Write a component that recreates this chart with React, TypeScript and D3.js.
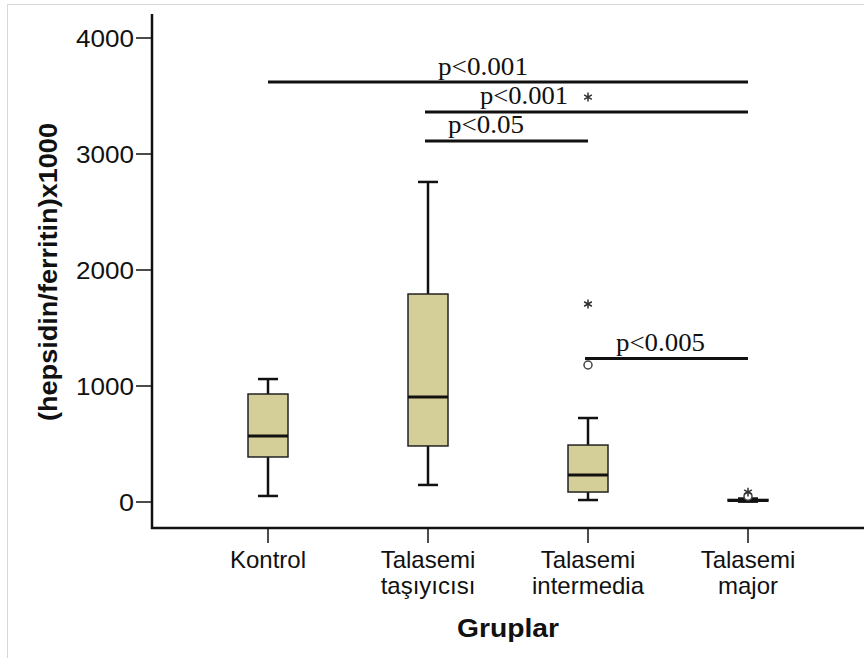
import React from "react";
import * as d3 from "d3";

// groups on the x axis
const groups = ["Kontrol", "Talasemi taşıyıcısı", "Talasemi intermedia", "Talasemi major"];
const groupLines = [["Kontrol"], ["Talasemi", "taşıyıcısı"], ["Talasemi", "intermedia"], ["Talasemi", "major"]];

// box stats: [min whisker, Q1, median, Q3, max whisker]
const boxStats = [
  [52, 388, 569, 931, 1060],
  [147, 483, 905, 1793, 2759],
  [17, 86, 233, 491, 724],
  [3, 8, 14, 22, 30],
];

// outliers: circles (mild) and stars (extreme)
const mildOutliers = [
  { group: 2, value: 1181 },
  { group: 3, value: 50 },
];
const extremeOutliers = [
  { group: 2, value: 1707 },
  { group: 2, value: 3491 },
  { group: 3, value: 85 },
];

const yTicks = [0, 1000, 2000, 3000, 4000];

// significance bars: from group, to group, level in data units, label
const sigBars = [
  { from: 0, to: 3, level: 3620, label: "p<0.001" },
  { from: 1, to: 3, level: 3363, label: "p<0.001" },
  { from: 1, to: 2, level: 3112, label: "p<0.05" },
  { from: 2, to: 3, level: 1237, label: "p<0.005" },
];

const boxFill = "#d4cf98";
const ink = "#111";
const sans = "Arial, 'Liberation Sans', sans-serif";
const serif = "'Times New Roman', 'Liberation Serif', serif";

export default function App() {
  const width = 864;
  const height = 658;
  const axisX = 152;
  const axisY = 528;

  const y = d3.scaleLinear().domain([0, 4000]).range([502, 38]);
  const x = d3.scalePoint<string>().domain(groups).range([268, 748]);
  const boxW = 40;
  const capW = 20;
  const star = d3.symbol().type(d3.symbolAsterisk).size(56)() as string;

  return (
    <svg width={width} height={height} style={{ display: "block", position: "absolute", left: 0, top: 0 }}>
      <rect width={width} height={height} fill="#fff" />
      {/* thin frame */}
      <line x1={7} x2={width} y1={4.5} y2={4.5} stroke="#d8d8d8" />
      <line x1={7.5} x2={7.5} y1={4} y2={height} stroke="#d8d8d8" />

      {/* axes */}
      <line x1={axisX} x2={axisX} y1={14} y2={axisY + 1} stroke={ink} strokeWidth={2.5} />
      <line x1={axisX - 1} x2={width} y1={axisY} y2={axisY} stroke={ink} strokeWidth={2.5} />

      {yTicks.map((t) => (
        <g key={t}>
          <line x1={axisX - 16} x2={axisX} y1={y(t)} y2={y(t)} stroke={ink} strokeWidth={1.5} />
          <text
            x={axisX - 18}
            y={y(t)}
            dy="0.36em"
            textAnchor="end"
            fontFamily={sans}
            fontSize={24}
            fill={ink}
            textLength={t === 0 ? 15 : 58}
            lengthAdjust="spacingAndGlyphs"
          >
            {t}
          </text>
        </g>
      ))}

      {groups.map((g, i) => (
        <g key={g}>
          <line x1={x(g)} x2={x(g)} y1={axisY} y2={axisY + 15} stroke={ink} strokeWidth={1.5} />
          {groupLines[i].map((ln, j) => (
            <text key={j} x={x(g)} y={568 + j * 26} textAnchor="middle" fontFamily={sans} fontSize={24} fill={ink}>
              {ln}
            </text>
          ))}
        </g>
      ))}

      <text
        x={508}
        y={637}
        textAnchor="middle"
        fontFamily={sans}
        fontSize={25}
        fontWeight="bold"
        fill={ink}
        textLength={102}
        lengthAdjust="spacingAndGlyphs"
      >
        Gruplar
      </text>
      <text
        transform={`translate(57,272) rotate(-90)`}
        textAnchor="middle"
        fontFamily={sans}
        fontSize={25}
        fontWeight="bold"
        fill={ink}
        textLength={298}
        lengthAdjust="spacingAndGlyphs"
      >
        (hepsidin/ferritin)x1000
      </text>

      {/* boxes */}
      {boxStats.map((s, i) => {
        const cx = x(groups[i]) as number;
        const [lo, q1, med, q3, hi] = s;
        return (
          <g key={i}>
            <line x1={cx} x2={cx} y1={y(hi)} y2={y(q3)} stroke={ink} strokeWidth={2.5} />
            <line x1={cx} x2={cx} y1={y(q1)} y2={y(lo)} stroke={ink} strokeWidth={2.5} />
            <line x1={cx - capW / 2} x2={cx + capW / 2} y1={y(hi)} y2={y(hi)} stroke={ink} strokeWidth={2.5} />
            <line x1={cx - capW / 2} x2={cx + capW / 2} y1={y(lo)} y2={y(lo)} stroke={ink} strokeWidth={2.5} />
            <rect
              x={cx - boxW / 2}
              y={y(q3)}
              width={boxW}
              height={Math.max(y(q1) - y(q3), 1)}
              fill={boxFill}
              stroke="#222"
              strokeWidth={1.5}
            />
            <line x1={cx - boxW / 2} x2={cx + boxW / 2} y1={y(med)} y2={y(med)} stroke={ink} strokeWidth={3} />
          </g>
        );
      })}

      {mildOutliers.map((o, i) => (
        <circle key={i} cx={x(groups[o.group])} cy={y(o.value)} r={4} fill="#fff" stroke="#444" strokeWidth={1.5} />
      ))}
      {extremeOutliers.map((o, i) => (
        <path
          key={i}
          d={star}
          transform={`translate(${x(groups[o.group])},${y(o.value)})`}
          fill="none"
          stroke="#333"
          strokeWidth={1.5}
        />
      ))}

      {/* significance bars */}
      {sigBars.map((b, i) => {
        const x1 = i === 0 ? (x(groups[b.from]) as number) : (x(groups[b.from]) as number) - 3;
        const x2 = x(groups[b.to]) as number;
        const yy = y(b.level);
        return <line key={i} x1={x1} x2={x2} y1={yy} y2={yy} stroke={ink} strokeWidth={3} />;
      })}
      <text x={438} y={75} fontFamily={serif} fontSize={25} fill={ink} textLength={90} lengthAdjust="spacingAndGlyphs">
        {sigBars[0].label}
      </text>
      <text x={480} y={104} fontFamily={serif} fontSize={25} fill={ink} textLength={88} lengthAdjust="spacingAndGlyphs">
        {sigBars[1].label}
      </text>
      <text x={448} y={133} fontFamily={serif} fontSize={25} fill={ink} textLength={76} lengthAdjust="spacingAndGlyphs">
        {sigBars[2].label}
      </text>
      <text x={616} y={351} fontFamily={serif} fontSize={25} fill={ink} textLength={89} lengthAdjust="spacingAndGlyphs">
        {sigBars[3].label}
      </text>
    </svg>
  );
}
